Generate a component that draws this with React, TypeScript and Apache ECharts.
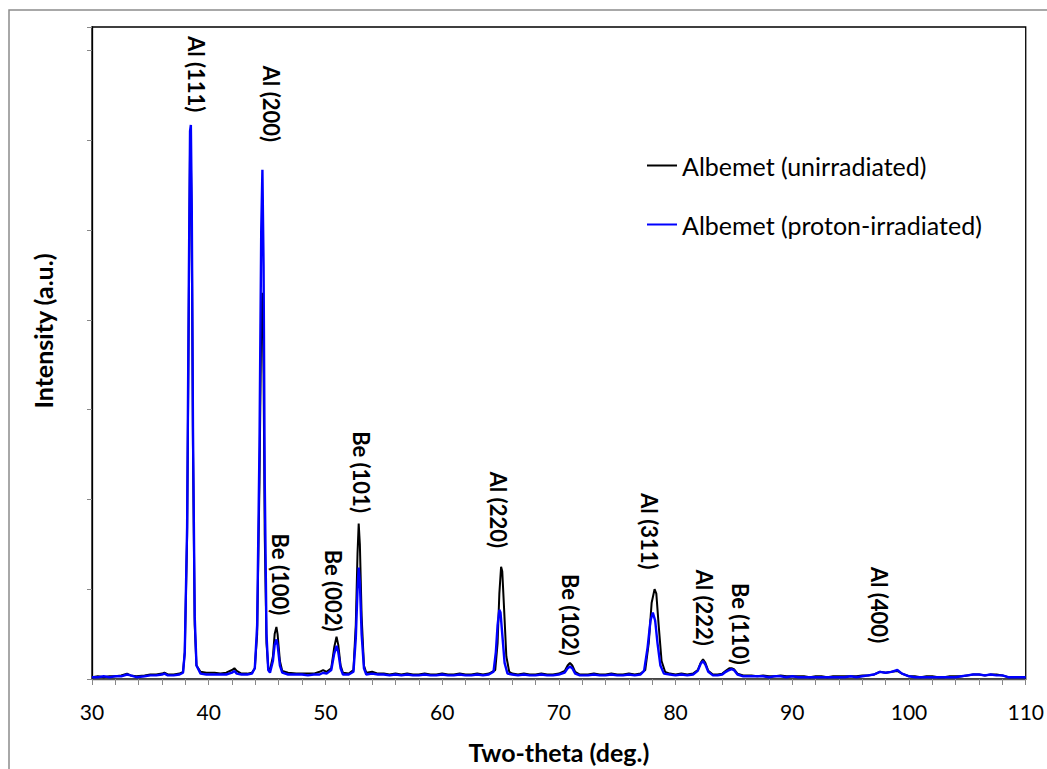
import React, { useRef, useEffect } from 'react';
import * as echarts from 'echarts';

const FONT = 'Lato, "Open Sans", sans-serif';

// Two-theta (deg.) vs intensity (a.u.)
const UNIRRADIATED: [number, number][] = [
  [30.0, 0.02], [30.5, 0.03], [31.0, 0.02], [31.5, 0.03], [32.0, 0.03], [32.5, 0.04],
  [33.0, 0.06], [33.3, 0.04], [33.8, 0.03], [34.5, 0.04], [35.0, 0.05], [35.5, 0.05],
  [36.0, 0.06], [36.2, 0.07], [36.5, 0.05], [37.0, 0.05], [37.5, 0.06], [37.8, 0.08],
  [37.95, 0.3], [38.15, 1.6], [38.3, 4.2], [38.4, 5.9], [38.45, 6.0], [38.55, 5.0],
  [38.65, 2.6], [38.8, 0.6], [38.95, 0.15], [39.3, 0.08], [39.8, 0.07], [40.5, 0.07],
  [41.0, 0.06], [41.5, 0.07], [42.0, 0.1], [42.2, 0.12], [42.4, 0.09], [42.8, 0.06],
  [43.3, 0.06], [43.7, 0.07], [43.95, 0.12], [44.15, 0.5], [44.35, 2.2], [44.5, 4.0],
  [44.6, 4.3], [44.7, 3.4], [44.8, 1.6], [44.95, 0.4], [45.1, 0.12], [45.25, 0.1],
  [45.5, 0.25], [45.65, 0.5], [45.8, 0.58], [45.9, 0.5], [46.1, 0.2], [46.3, 0.09],
  [46.8, 0.07], [47.5, 0.06], [48.0, 0.06], [48.5, 0.06], [49.0, 0.06], [49.5, 0.08],
  [49.8, 0.1], [50.1, 0.08], [50.5, 0.12], [50.75, 0.35], [50.95, 0.47], [51.1, 0.38],
  [51.3, 0.15], [51.5, 0.07], [52.0, 0.06], [52.4, 0.1], [52.6, 0.6], [52.75, 1.4],
  [52.85, 1.73], [52.95, 1.5], [53.1, 0.7], [53.3, 0.15], [53.5, 0.07], [54.0, 0.08],
  [54.5, 0.06], [55.0, 0.06], [55.5, 0.05], [56.0, 0.06], [56.5, 0.05], [57.0, 0.06],
  [57.5, 0.05], [58.0, 0.05], [58.5, 0.06], [59.0, 0.05], [59.5, 0.05], [60.0, 0.06],
  [60.5, 0.05], [61.0, 0.05], [61.5, 0.06], [62.0, 0.05], [62.5, 0.05], [63.0, 0.06],
  [63.5, 0.05], [64.0, 0.06], [64.55, 0.1], [64.75, 0.4], [64.9, 0.95], [65.05, 1.25],
  [65.15, 1.2], [65.3, 0.8], [65.5, 0.25], [65.75, 0.08], [66.0, 0.06], [66.5, 0.05],
  [67.0, 0.06], [67.5, 0.05], [68.0, 0.05], [68.5, 0.06], [69.0, 0.05], [69.5, 0.05],
  [70.0, 0.06], [70.5, 0.09], [70.75, 0.15], [70.95, 0.18], [71.15, 0.15], [71.4, 0.08],
  [71.8, 0.05], [72.5, 0.05], [73.0, 0.06], [73.5, 0.05], [74.0, 0.05], [74.5, 0.06],
  [75.0, 0.05], [75.5, 0.05], [76.0, 0.06], [76.5, 0.05], [77.0, 0.06], [77.4, 0.1],
  [77.7, 0.4], [77.95, 0.85], [78.2, 1.0], [78.35, 0.95], [78.55, 0.6], [78.8, 0.2],
  [79.1, 0.08], [79.5, 0.06], [80.0, 0.05], [80.5, 0.06], [81.0, 0.05], [81.5, 0.06],
  [81.9, 0.1], [82.15, 0.18], [82.35, 0.22], [82.55, 0.18], [82.8, 0.09], [83.2, 0.05],
  [83.6, 0.05], [84.0, 0.06], [84.3, 0.09], [84.6, 0.12], [84.8, 0.12], [85.0, 0.11],
  [85.3, 0.06], [85.8, 0.04], [86.5, 0.04], [87.0, 0.03], [87.5, 0.04], [88.0, 0.03],
  [88.5, 0.03], [89.0, 0.04], [89.5, 0.03], [90.0, 0.03], [90.5, 0.03], [91.0, 0.03],
  [91.5, 0.02], [92.0, 0.03], [92.5, 0.03], [93.0, 0.02], [93.5, 0.03], [94.0, 0.03],
  [94.5, 0.03], [95.0, 0.03], [95.5, 0.03], [96.0, 0.04], [96.5, 0.04], [97.0, 0.05],
  [97.5, 0.08], [98.0, 0.07], [98.5, 0.08], [99.0, 0.09], [99.4, 0.06], [100.0, 0.03],
  [100.5, 0.03], [101.0, 0.02], [101.5, 0.03], [102.0, 0.03], [102.5, 0.02], [103.0, 0.02],
  [103.5, 0.03], [104.0, 0.03], [104.5, 0.03], [105.0, 0.04], [105.5, 0.05], [106.0, 0.05],
  [106.5, 0.04], [107.0, 0.05], [107.5, 0.05], [108.0, 0.04], [108.5, 0.02], [109.0, 0.02],
  [109.5, 0.02], [110.0, 0.02],
];

const IRRADIATED: [number, number][] = [
  [30.0, 0.02], [30.5, 0.02], [31.0, 0.03], [31.5, 0.02], [32.0, 0.03], [32.5, 0.03],
  [33.0, 0.05], [33.3, 0.04], [33.8, 0.02], [34.5, 0.03], [35.0, 0.04], [35.5, 0.04],
  [36.0, 0.05], [36.2, 0.06], [36.5, 0.04], [37.0, 0.04], [37.5, 0.05], [37.8, 0.07],
  [37.95, 0.3], [38.15, 1.7], [38.3, 4.5], [38.4, 6.1], [38.47, 6.17], [38.55, 5.2],
  [38.65, 2.8], [38.8, 0.7], [38.95, 0.15], [39.3, 0.06], [39.8, 0.05], [40.5, 0.05],
  [41.0, 0.05], [41.5, 0.05], [42.0, 0.07], [42.2, 0.09], [42.4, 0.06], [42.8, 0.05],
  [43.3, 0.05], [43.7, 0.06], [43.95, 0.12], [44.15, 0.6], [44.35, 2.6], [44.5, 5.0],
  [44.6, 5.67], [44.7, 4.6], [44.8, 2.2], [44.95, 0.5], [45.1, 0.1], [45.25, 0.07],
  [45.5, 0.2], [45.65, 0.38], [45.8, 0.44], [45.9, 0.38], [46.1, 0.15], [46.3, 0.07],
  [46.8, 0.05], [47.5, 0.05], [48.0, 0.05], [48.5, 0.04], [49.0, 0.05], [49.5, 0.05],
  [49.8, 0.07], [50.1, 0.06], [50.5, 0.1], [50.75, 0.28], [50.95, 0.37], [51.1, 0.3],
  [51.3, 0.12], [51.5, 0.05], [52.0, 0.05], [52.4, 0.08], [52.6, 0.45], [52.75, 1.0],
  [52.85, 1.24], [52.95, 1.08], [53.1, 0.5], [53.3, 0.12], [53.5, 0.05], [54.0, 0.06],
  [54.5, 0.05], [55.0, 0.05], [55.5, 0.04], [56.0, 0.05], [56.5, 0.04], [57.0, 0.05],
  [57.5, 0.04], [58.0, 0.04], [58.5, 0.05], [59.0, 0.04], [59.5, 0.04], [60.0, 0.05],
  [60.5, 0.04], [61.0, 0.04], [61.5, 0.05], [62.0, 0.04], [62.5, 0.04], [63.0, 0.05],
  [63.5, 0.04], [64.0, 0.05], [64.4, 0.08], [64.6, 0.3], [64.75, 0.6], [64.9, 0.77],
  [65.0, 0.74], [65.15, 0.5], [65.35, 0.18], [65.6, 0.06], [66.0, 0.05], [66.5, 0.04],
  [67.0, 0.05], [67.5, 0.04], [68.0, 0.04], [68.5, 0.05], [69.0, 0.04], [69.5, 0.04],
  [70.0, 0.05], [70.5, 0.07], [70.75, 0.12], [70.95, 0.14], [71.15, 0.12], [71.4, 0.06],
  [71.8, 0.04], [72.5, 0.04], [73.0, 0.05], [73.5, 0.04], [74.0, 0.04], [74.5, 0.05],
  [75.0, 0.04], [75.5, 0.04], [76.0, 0.05], [76.5, 0.04], [77.0, 0.05], [77.3, 0.09],
  [77.6, 0.35], [77.85, 0.65], [78.05, 0.74], [78.25, 0.65], [78.45, 0.4], [78.7, 0.15],
  [79.0, 0.06], [79.5, 0.05], [80.0, 0.04], [80.5, 0.05], [81.0, 0.04], [81.5, 0.05],
  [81.9, 0.09], [82.15, 0.17], [82.35, 0.2], [82.55, 0.16], [82.8, 0.08], [83.2, 0.04],
  [83.6, 0.04], [84.0, 0.05], [84.3, 0.08], [84.6, 0.1], [84.8, 0.11], [85.0, 0.1],
  [85.3, 0.05], [85.8, 0.03], [86.5, 0.03], [87.0, 0.03], [87.5, 0.03], [88.0, 0.02],
  [88.5, 0.03], [89.0, 0.03], [89.5, 0.02], [90.0, 0.03], [90.5, 0.02], [91.0, 0.02],
  [91.5, 0.02], [92.0, 0.02], [92.5, 0.02], [93.0, 0.02], [93.5, 0.02], [94.0, 0.02],
  [94.5, 0.02], [95.0, 0.03], [95.5, 0.02], [96.0, 0.03], [96.5, 0.04], [97.0, 0.05],
  [97.5, 0.08], [98.0, 0.07], [98.5, 0.08], [99.0, 0.1], [99.4, 0.06], [100.0, 0.03],
  [100.5, 0.02], [101.0, 0.02], [101.5, 0.02], [102.0, 0.02], [102.5, 0.02], [103.0, 0.02],
  [103.5, 0.02], [104.0, 0.02], [104.5, 0.03], [105.0, 0.04], [105.5, 0.05], [106.0, 0.05],
  [106.5, 0.04], [107.0, 0.05], [107.5, 0.04], [108.0, 0.04], [108.5, 0.02], [109.0, 0.02],
  [109.5, 0.02], [110.0, 0.02],
];

// Peak labels: text and the point where the (rotated) text starts
const PEAK_NAMES = [
  'Al (111)', 'Al (200)', 'Be (100)', 'Be (002)', 'Be (101)', 'Al (220)',
  'Be (102)', 'Al (311)', 'Al (222)', 'Be (110)', 'Al (400)',
];
const PEAK_LABEL_X = [38.96, 45.35, 46.18, 50.72, 53.11, 64.8, 71.02, 77.76, 82.45, 85.52, 97.46];
const PEAK_LABEL_Y = [7.16, 6.83, 1.62, 1.44, 2.76, 2.31, 1.17, 2.07, 1.22, 1.07, 1.25];

const SERIES_NAMES = ['Albemet (unirradiated)', 'Albemet (proton-irradiated)'];

const App: React.FC = () => {
  const chartRef = useRef<HTMLDivElement>(null);

  useEffect(() => {
    if (!chartRef.current) return;
    const chart = echarts.init(chartRef.current, undefined, { renderer: 'svg' });

    const option: echarts.EChartsOption = {
      animation: false,
      backgroundColor: '#fff',
      textStyle: { fontFamily: FONT },
      grid: {
        left: 92,
        right: 17,
        top: 27,
        bottom: 78,
        show: true,
        borderColor: '#000',
        borderWidth: 1.3,
      },
      legend: {
        data: SERIES_NAMES,
        orient: 'vertical',
        left: 642,
        top: 148,
        itemWidth: 30,
        itemHeight: 2,
        itemGap: 34,
        icon: 'rect',
        textStyle: { fontFamily: FONT, fontSize: 25, color: '#000' },
      },
      graphic: [
        {
          type: 'rect',
          shape: { x: 9, y: 10, width: 1100, height: 800 },
          style: { fill: 'none', stroke: '#8c8c8c', lineWidth: 1.5 },
          silent: true,
        },
        {
          type: 'text',
          x: 43,
          y: 331,
          rotation: Math.PI / 2,
          style: {
            text: 'Intensity (a.u.)',
            fontFamily: FONT,
            fontWeight: 'bold',
            fontSize: 25,
            fill: '#000',
            align: 'center',
            verticalAlign: 'middle',
          },
          silent: true,
        },
      ],
      xAxis: {
        type: 'value',
        min: 30,
        max: 110,
        interval: 2,
        name: 'Two-theta (deg.)',
        nameLocation: 'middle',
        nameGap: 60,
        nameTextStyle: { fontFamily: FONT, fontWeight: 'bold', fontSize: 25, color: '#000' },
        axisLine: { lineStyle: { color: '#555', width: 1.3 } },
        axisTick: { length: 6, lineStyle: { color: '#888' } },
        axisLabel: {
          margin: 22,
          fontFamily: FONT,
          fontSize: 21,
          color: '#000',
          formatter: (v: number) => (v % 10 === 0 ? String(v) : ''),
        },
        splitLine: { show: false },
      },
      yAxis: {
        type: 'value',
        min: 0,
        max: 7.26,
        interval: 1,
        axisLine: { show: true, lineStyle: { color: '#000', width: 1.3 } },
        axisTick: { show: true, length: 5, lineStyle: { color: '#888' } },
        axisLabel: { show: false },
        splitLine: { show: false },
      },
      series: [
        {
          name: SERIES_NAMES[0],
          type: 'line',
          data: UNIRRADIATED,
          showSymbol: false,
          symbol: 'none',
          lineStyle: { color: '#000', width: 2 },
          itemStyle: { color: '#000' },
          z: 2,
        },
        {
          name: SERIES_NAMES[1],
          type: 'line',
          data: IRRADIATED,
          showSymbol: false,
          symbol: 'none',
          lineStyle: { color: '#0000ff', width: 2.4 },
          itemStyle: { color: '#0000ff' },
          z: 3,
        },
        {
          name: 'peaks',
          type: 'scatter',
          silent: true,
          symbolSize: 1,
          itemStyle: { color: 'rgba(255,255,255,0)', opacity: 1 },
          data: PEAK_NAMES.map((n, i) => ({ name: n, value: [PEAK_LABEL_X[i], PEAK_LABEL_Y[i]] })),
          label: {
            show: true,
            position: 'inside',
            formatter: (p: any) => p.name,
            rotate: -90,
            align: 'left',
            verticalAlign: 'middle',
            fontFamily: FONT,
            fontWeight: 'bold',
            fontSize: 22,
            color: '#000',
            textBorderWidth: 0,
            textShadowBlur: 0,
          },
          z: 4,
        },
      ],
    };

    chart.setOption(option);
    return () => chart.dispose();
  }, []);

  return (
    <div
      ref={chartRef}
      style={{ position: 'absolute', left: 0, top: 0, width: 1047, height: 769 }}
    />
  );
};

export default App;
